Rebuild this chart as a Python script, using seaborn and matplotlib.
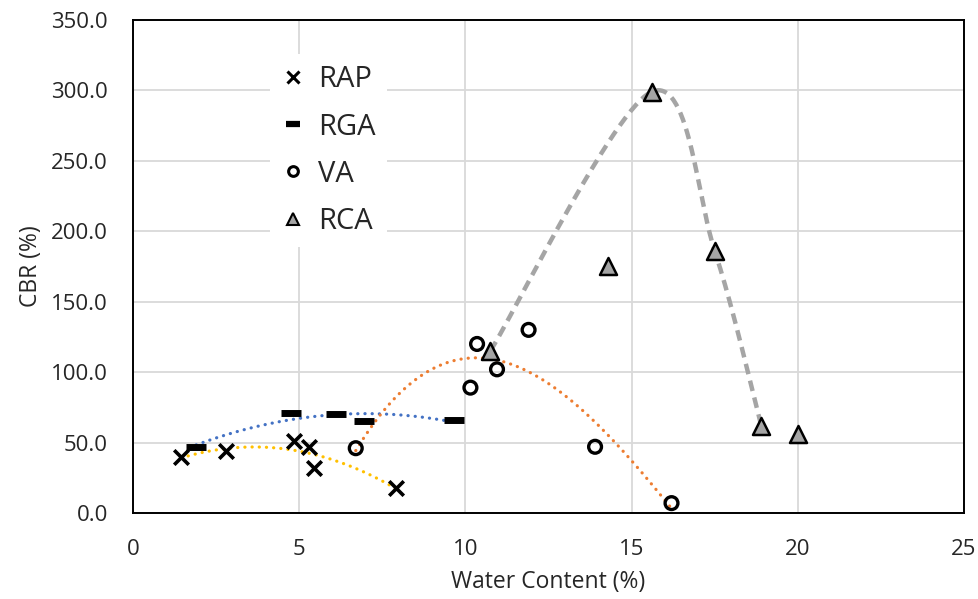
import numpy as np
import pandas as pd
import matplotlib
matplotlib.use("Agg")
import matplotlib.pyplot as plt
from matplotlib.lines import Line2D
import seaborn as sns

# Water content (%) and CBR (%) for each aggregate type
rap_w = [1.45, 2.8, 4.85, 5.3, 5.45, 7.9]
rap_cbr = [39.5, 44.0, 51.0, 46.5, 31.7, 18.0]

rga_w = [1.9, 4.75, 6.1, 6.95, 9.65]
rga_cbr = [47.0, 71.0, 70.5, 65.0, 66.0]

va_w = [6.7, 10.15, 10.35, 10.95, 11.9, 13.9, 16.2]
va_cbr = [46.0, 89.0, 120.0, 102.0, 130.0, 47.0, 7.0]

rca_w = [10.75, 14.3, 15.6, 17.5, 18.9, 20.0]
rca_cbr = [115.0, 175.0, 299.0, 186.0, 62.0, 56.0]
# points joined by the smoothed compaction curve
rca_curve_w = [10.75, 15.6, 17.5, 18.9]
rca_curve_cbr = [115.0, 299.0, 186.0, 62.0]

x_ticks = [0, 5, 10, 15, 20, 25]
y_ticks = [0, 50, 100, 150, 200, 250, 300, 350]

BLUE, ORANGE, YELLOW, GRAY = "#4472C4", "#ED7D31", "#FFC000", "#A5A5A5"
TEXT = "#262626"


def poly_trend(x, y, deg, n=200):
    coef = np.polyfit(x, y, deg)
    xs = np.linspace(min(x), max(x), n)
    return pd.DataFrame({"x": xs, "y": np.polyval(coef, xs)})


def smooth_curve(x, y, n=60):
    """Bezier smoothing through the points (Catmull-Rom control points)."""
    p = np.column_stack([x, y]).astype(float)
    ext = np.vstack([p[0], p, p[-1]])
    out = []
    t = np.linspace(0, 1, n)[:, None]
    for i in range(len(p) - 1):
        p0, p1, p2, p3 = ext[i], ext[i + 1], ext[i + 2], ext[i + 3]
        b1 = p1 + (p2 - p0) / 6.0
        b2 = p2 - (p3 - p1) / 6.0
        seg = ((1 - t) ** 3) * p1 + 3 * ((1 - t) ** 2) * t * b1 \
            + 3 * (1 - t) * t ** 2 * b2 + t ** 3 * p2
        out.append(seg if i == 0 else seg[1:])
    s = np.vstack(out)
    return pd.DataFrame({"x": s[:, 0], "y": s[:, 1]})


sns.set_theme(style="white")
plt.rcParams["font.family"] = ["Open Sans", "DejaVu Sans"]

fig = plt.figure(figsize=(9.79, 5.99), dpi=100)
ax = fig.add_axes([0.1359, 0.1436, 0.8488, 0.8230])

dot = dict(linewidth=2.3, linestyle=(0, (0.05, 2.2)), dash_capstyle="round",
           estimator=None, sort=False, legend=False)

sns.lineplot(data=poly_trend(rap_w, rap_cbr, 2), x="x", y="y", color=YELLOW, ax=ax, **dot)
sns.lineplot(data=poly_trend(rga_w, rga_cbr, 2), x="x", y="y", color=BLUE, ax=ax, **dot)
sns.lineplot(data=poly_trend(va_w, va_cbr, 3), x="x", y="y", color=ORANGE, ax=ax, **dot)
sns.lineplot(data=smooth_curve(rca_curve_w, rca_curve_cbr), x="x", y="y", color=GRAY,
             linewidth=3.2, linestyle=(0, (2.4, 1.5)), estimator=None, sort=False,
             legend=False, ax=ax)

sns.scatterplot(x=rap_w, y=rap_cbr, marker="x", s=110, color="black",
                linewidth=2.6, ax=ax, zorder=5)
sns.scatterplot(x=rga_w, y=rga_cbr, marker="_", s=190, color="black",
                linewidth=5.0, ax=ax, zorder=5)
sns.scatterplot(x=va_w, y=va_cbr, marker="o", s=85, facecolor="none",
                edgecolor="black", linewidth=2.4, ax=ax, zorder=5)
sns.scatterplot(x=rca_w, y=rca_cbr, marker="^", s=150, color=GRAY,
                edgecolor="black", linewidth=1.8, ax=ax, zorder=5)

ax.set_xlim(0, 25)
ax.set_ylim(0, 350)
ax.set_xticks(x_ticks)
ax.set_yticks(y_ticks)
ax.set_xticklabels([str(v) for v in x_ticks])
ax.set_yticklabels([f"{v:.1f}" for v in y_ticks])
ax.tick_params(axis="both", length=0, labelsize=16, colors=TEXT)
ax.tick_params(axis="y", pad=18)
ax.tick_params(axis="x", pad=19)
ax.grid(True, color="#D9D9D9", linewidth=1.3)
ax.set_axisbelow(True)
for sp in ax.spines.values():
    sp.set_visible(True)
    sp.set_color("black")
    sp.set_linewidth(1.4)

ax.set_xlabel("Water Content (%)", fontsize=16.5, color=TEXT, labelpad=7)
ax.set_ylabel("CBR (%)", fontsize=16.5, color=TEXT, labelpad=6)

handles = [
    Line2D([], [], marker="x", linestyle="none", color="black", markersize=8, markeredgewidth=2.2),
    Line2D([], [], marker="_", linestyle="none", color="black", markersize=10, markeredgewidth=4.5),
    Line2D([], [], marker="o", linestyle="none", markerfacecolor="none",
           markeredgecolor="black", markersize=7, markeredgewidth=2.2),
    Line2D([], [], marker="^", linestyle="none", markerfacecolor=GRAY,
           markeredgecolor="black", markersize=9, markeredgewidth=1.5),
]
leg = ax.legend(handles, ["RAP", "RGA", "VA", "RCA"], loc="upper left",
                bbox_to_anchor=(0.147, 0.961), fontsize=21, frameon=True,
                facecolor="white", edgecolor="none", framealpha=1,
                handlelength=0.8, handletextpad=0.45, labelspacing=0.62,
                borderpad=0.4, fancybox=False)
for t in leg.get_texts():
    t.set_color(TEXT)

fig.savefig("out.png", dpi=100)
